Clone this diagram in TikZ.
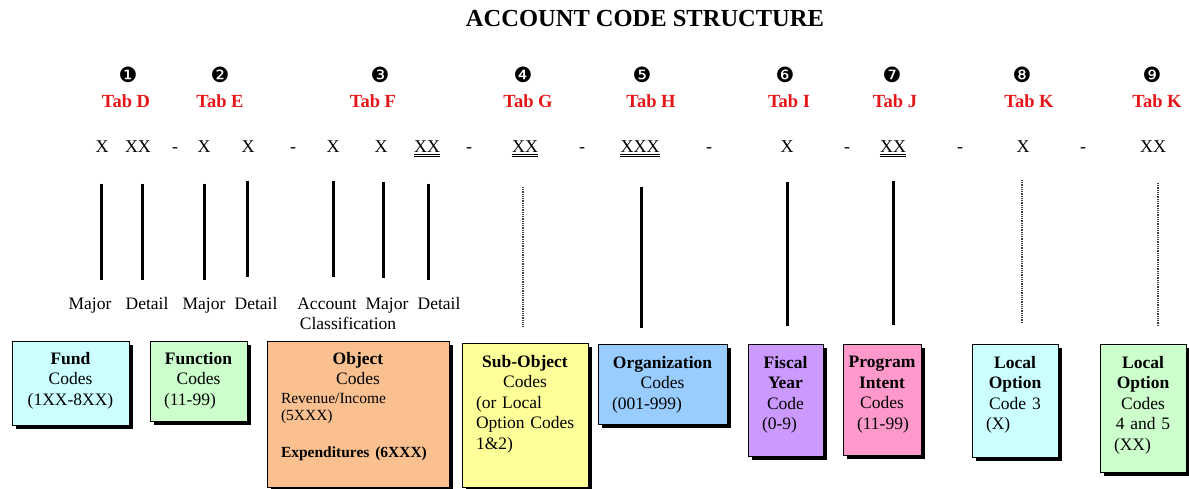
\documentclass[tikz,border=0pt]{standalone}
\usepackage{fontspec}
\setmainfont{Liberation Serif}
\newfontfamily\dingfont{DejaVu Sans}
\definecolor{tabred}{RGB}{228,22,26}
\definecolor{fundcyan}{RGB}{204,255,255}
\definecolor{funcgreen}{RGB}{204,255,204}
\definecolor{objorange}{RGB}{250,192,144}
\definecolor{subyellow}{RGB}{255,255,153}
\definecolor{orgblue}{RGB}{153,204,255}
\definecolor{fiscpurple}{RGB}{204,153,255}
\definecolor{progpink}{RGB}{255,153,204}
% box with a black drop shadow: x1 y1 x2 y2 fill
\newcommand{\codebox}[5]{\fill[black] (#1+4,#2+4) rectangle (#3+4,#4+4); \filldraw[fill=#5, draw=black, line width=0.8pt] (#1,#2) rectangle (#3,#4);}
% vertical bars: x ytop ybottom
\newcommand{\solidbar}[3]{\draw[line width=3pt] ( #1 , #2 ) -- ( #1 , #3 );}
\newcommand{\dotbar}[3]{\draw[black!75, line width=1.2pt, dash pattern=on 1pt off 0.8pt] ( #1 , #2 ) -- ( #1 , #3 );}
% double underline below a code node
\newcommand{\dblunder}[1]{\draw[line width=0.7pt] ([yshift=-1.6pt]#1.base west) -- ([yshift=-1.6pt]#1.base east); \draw[line width=0.7pt] ([yshift=-3.6pt]#1.base west) -- ([yshift=-3.6pt]#1.base east);}
% left aligned line inside a centred box text
\newcommand{\lft}[1]{\makebox[\hsize][l]{\hspace*{10pt}#1}}
\newcommand{\smalltxt}{\fontsize{15.5}{17}\selectfont}

\begin{document}
\begin{tikzpicture}[x=1pt, y=-1pt,
    code/.style={font=\fontsize{18}{20}\selectfont, inner sep=0pt, anchor=base},
    tab/.style={font=\bfseries\fontsize{18.5}{20}\selectfont, text=tabred, inner sep=0pt, anchor=base},
    num/.style={font=\dingfont\fontsize{21}{21}\selectfont, inner sep=0pt},
    part/.style={font=\fontsize{17.5}{20}\selectfont, inner sep=0pt, anchor=base},
    boxtext/.style={font=\fontsize{17.5}{20.5}\selectfont, inner sep=0pt, anchor=north, align=center}]
    \useasboundingbox (0,0) rectangle (1189,489);

    \node[font=\bfseries\fontsize{24.5}{26}\selectfont, inner sep=0pt, anchor=base] (title) at (645,27) {ACCOUNT CODE STRUCTURE};

    % numbers
    \node[num] (n1) at (128,75) {❶};
    \node[num] (n2) at (220,75) {❷};
    \node[num] (n3) at (380,75) {❸};
    \node[num] (n4) at (523,75) {❹};
    \node[num] (n5) at (642,75) {❺};
    \node[num] (n6) at (785,75) {❻};
    \node[num] (n7) at (892,75) {❼};
    \node[num] (n8) at (1022,75) {❽};
    \node[num] (n9) at (1152,75) {❾};

    % tabs
    \node[tab] (tabd) at (126,108) {Tab D};
    \node[tab] (tabe) at (220,108) {Tab E};
    \node[tab] (tabf) at (373,108) {Tab F};
    \node[tab] (tabg) at (528,108) {Tab G};
    \node[tab] (tabh) at (651,108) {Tab H};
    \node[tab] (tabi) at (789,108) {Tab I};
    \node[tab] (tabj) at (895,108) {Tab J};
    \node[tab] (tabk) at (1029,108) {Tab K};
    \node[tab] (tabkk) at (1157,108) {Tab K};

    % code digits
    \node[code] (d1) at (102,153) {X};
    \node[code] (d2) at (138,153) {XX};
    \node[code] (e1) at (204,153) {X};
    \node[code] (e2) at (248,153) {X};
    \node[code] (f1) at (333,153) {X};
    \node[code] (f2) at (381,153) {X};
    \node[code] (f3) at (427,153) {XX};
    \node[code] (g1) at (525,153) {XX};
    \node[code] (h1) at (640,153) {XXX};
    \node[code] (i1) at (787,153) {X};
    \node[code] (j1) at (893,153) {XX};
    \node[code] (k1) at (1023,153) {X};
    \node[code] (k2) at (1153,153) {XX};
    \dblunder{f3}
    \dblunder{g1}
    \dblunder{h1}
    \dblunder{j1}

    % separators
    \node[code] (s1) at (175,153) {-};
    \node[code] (s2) at (293,153) {-};
    \node[code] (s3) at (469,153) {-};
    \node[code] (s4) at (582,153) {-};
    \node[code] (s5) at (709,153) {-};
    \node[code] (s6) at (847,153) {-};
    \node[code] (s7) at (960,153) {-};
    \node[code] (s8) at (1083,153) {-};

    % bars
    \solidbar{101}{184}{280}
    \solidbar{142}{184}{280}
    \solidbar{204}{184}{280}
    \solidbar{247}{181}{277}
    \solidbar{333}{181}{277}
    \solidbar{383}{182}{278}
    \solidbar{428}{184}{280}
    \dotbar{523}{187}{327}
    \solidbar{641}{187}{328}
    \solidbar{787}{182}{326}
    \solidbar{893}{181}{325}
    \dotbar{1022}{180}{323}
    \dotbar{1158}{183}{326}

    % parts
    \node[part] (majd) at (90,309) {Major};
    \node[part] (detd) at (147,309) {Detail};
    \node[part] (maje) at (204,309) {Major};
    \node[part] (dete) at (256,309) {Detail};
    \node[part] (accf) at (327,309) {Account};
    \node[part] (clsf) at (348,329) {Classification};
    \node[part] (majf) at (387,309) {Major};
    \node[part] (detf) at (439,309) {Detail};

    % boxes
    \codebox{12}{341}{129}{425}{fundcyan}
    \codebox{150}{341}{247}{421}{funcgreen}
    \codebox{267}{341}{449}{487}{objorange}
    \codebox{462}{343}{588}{487}{subyellow}
    \codebox{598}{344}{727}{424}{orgblue}
    \codebox{748}{344}{823}{456}{fiscpurple}
    \codebox{843}{344}{921}{455}{progpink}
    \codebox{972}{344}{1058}{457}{fundcyan}
    \codebox{1100}{344}{1186}{472}{funcgreen}

    \node[boxtext, text width=109pt] (fund) at (70.5,352) {\textbf{Fund}\\Codes\\(1XX-8XX)};
    \node[boxtext, text width=89pt] (function) at (198.5,352) {\textbf{Function}\\Codes\\\lft{(11-99)}};
    \node[boxtext, text width=174pt] (object) at (358,352) {\textbf{Object}\\Codes\\[-2pt]\lft{\smalltxt Revenue/Income}\\[-3pt]\lft{\smalltxt (5XXX)}\\[16pt]\lft{\smalltxt\bfseries Expenditures (6XXX)}};
    \node[boxtext, text width=118pt] (subobject) at (525,355) {\textbf{Sub-Object}\\Codes\\\lft{(or Local}\\\lft{Option Codes}\\\lft{1\&2)}};
    \node[boxtext, text width=121pt] (organization) at (662.5,356) {\textbf{Organization}\\Codes\\\lft{(001-999)}};
    \node[boxtext, text width=67pt] (fiscal) at (785.5,356) {\textbf{Fiscal}\\\textbf{Year}\\Code\\\lft{(0-9)}};
    \node[boxtext, text width=70pt] (program) at (882,356) {\textbf{Program}\\\textbf{Intent}\\Codes\\\lft{(11-99)}};
    \node[boxtext, text width=78pt] (localthree) at (1015,356) {\textbf{Local}\\\textbf{Option}\\Code 3\\\lft{(X)}};
    \node[boxtext, text width=78pt] (localfour) at (1143,356) {\textbf{Local}\\\textbf{Option}\\Codes\\4 and 5\\\lft{(XX)}};
\end{tikzpicture}
\end{document}
